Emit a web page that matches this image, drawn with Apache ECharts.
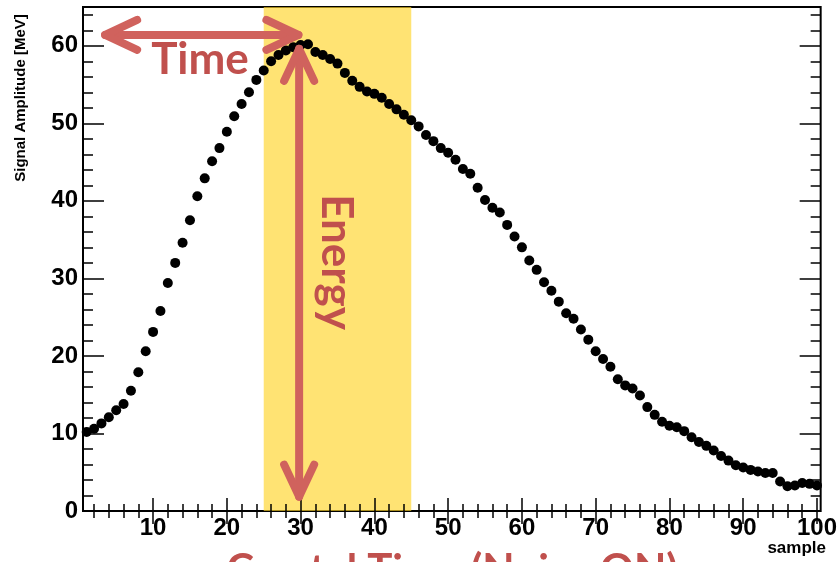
<!DOCTYPE html>
<html>
<head>
<meta charset="utf-8">
<script src="https://cdn.jsdelivr.net/npm/echarts@6/dist/echarts.min.js"></script>
<style>
html,body{margin:0;padding:0;background:#fff;}
#c{width:840px;height:562px;}
</style>
</head>
<body>
<div id="c"></div>
<script>
// ---------- data ----------
const samples = [1,2,3,4,5,6,7,8,9,10,11,12,13,14,15,16,17,18,19,20,
  21,22,23,24,25,26,27,28,29,30,31,32,33,34,35,36,37,38,39,40,
  41,42,43,44,45,46,47,48,49,50,51,52,53,54,55,56,57,58,59,60,
  61,62,63,64,65,66,67,68,69,70,71,72,73,74,75,76,77,78,79,80,
  81,82,83,84,85,86,87,88,89,90,91,92,93,94,95,96,97,98,99,100];
const amplitude = [10.2,10.6,11.3,12.1,13.0,13.8,15.5,17.9,20.6,23.1,
  25.8,29.4,32.0,34.6,37.5,40.6,42.9,45.1,46.8,48.9,
  50.9,52.5,54.0,55.6,56.8,58.0,58.8,59.4,59.8,60.1,
  60.2,59.2,58.8,58.3,57.7,56.5,55.5,54.7,54.1,53.8,
  53.3,52.5,51.8,51.1,50.4,49.6,48.5,47.7,46.8,46.2,
  45.3,44.1,43.5,41.7,40.1,39.1,38.5,36.9,35.4,34.0,
  32.3,31.1,29.5,28.4,27.0,25.5,24.8,23.4,22.1,20.6,
  19.6,18.6,17.0,16.2,15.8,14.9,13.4,12.4,11.5,11.0,
  10.8,10.3,9.5,8.9,8.4,7.8,7.1,6.5,5.9,5.6,
  5.3,5.1,4.9,4.9,3.8,3.2,3.3,3.6,3.5,3.3];
const xMajorTicks = [10,20,30,40,50,60,70,80,90,100];
const xMinorTicks = [2,4,6,8,12,14,16,18,22,24,26,28,32,34,36,38,42,44,46,48,
  52,54,56,58,62,64,66,68,72,74,76,78,82,84,86,88,92,94,96,98];
const yMajorTicks = [0,10,20,30,40,50,60];
const yMinorTicks = [2,4,6,8,12,14,16,18,22,24,26,28,32,34,36,38,42,44,46,48,
  52,54,56,58,62,64];
const xRange = [0.5, 100.5];
const yRange = [0, 65];
const band = [25, 45];                       // highlighted sample window
const timeArrow = {x1: 3.5, x2: 29.7, y: 61.4};     // horizontal arrow (data coords)
const energyArrow = {x: 29.8, y1: 59.6, y2: 1.85};  // vertical arrow (data coords)
const xTitle = 'sample';
const yTitle = 'Signal Amplitude [MeV]';
const timeLabel = 'Time';
const energyLabel = 'Energy';
const bottomTitle = 'Crystal Time (Noise ON)';

// ---------- chart ----------
const chart = echarts.init(document.getElementById('c'), null, {renderer: 'canvas'});
const labelFont = {fontFamily: "'Liberation Sans Narrow','Liberation Sans',Arial,sans-serif", fontWeight: 'bold', fontSize: 24, color: '#000'};
const tickStyle = {color: '#000', width: 1.5};

function xAx(pos, ticks, len, withLabels) {
  return {
    type: 'value', min: xRange[0], max: xRange[1], position: pos,
    axisLine: {show: false}, splitLine: {show: false},
    axisTick: {show: true, inside: true, length: len, customValues: ticks, lineStyle: tickStyle},
    axisLabel: withLabels ? Object.assign({show: true, customValues: ticks, margin: 5}, labelFont) : {show: false},
    z: 1
  };
}
function yAx(pos, ticks, len, withLabels) {
  return {
    type: 'value', min: yRange[0], max: yRange[1], position: pos,
    axisLine: {show: false}, splitLine: {show: false},
    axisTick: {show: true, inside: true, length: len, customValues: ticks, lineStyle: tickStyle},
    axisLabel: withLabels ? Object.assign({show: true, customValues: ticks, margin: 5}, labelFont) : {show: false},
    z: 1
  };
}

const points = samples.map((s, i) => [s, amplitude[i]]);

chart.setOption({
  animation: false,
  backgroundColor: '#fff',
  grid: {left: 83, right: 15, top: 7, bottom: 51, show: true, borderColor: '#000', borderWidth: 2, backgroundColor: '#fff'},
  xAxis: [
    xAx('bottom', xMajorTicks, 13, true),
    xAx('bottom', xMinorTicks, 7, false),
    xAx('top', xMajorTicks, 13, false),
    xAx('top', xMinorTicks, 7, false)
  ],
  yAxis: [
    yAx('left', yMajorTicks, 21, true),
    yAx('left', yMinorTicks, 10, false),
    yAx('right', yMajorTicks, 21, false),
    yAx('right', yMinorTicks, 10, false)
  ],
  series: [
    {
      type: 'scatter', xAxisIndex: 0, yAxisIndex: 0, data: points,
      symbol: 'circle', symbolSize: 10, itemStyle: {color: '#000', opacity: 1}, z: 5, silent: true
    },
    {
      type: 'line', xAxisIndex: 0, yAxisIndex: 0, data: [], z: 3, silent: true,
      markArea: {silent: true, itemStyle: {color: 'rgba(255,212,42,0.66)'},
        data: [[{xAxis: band[0]}, {xAxis: band[1]}]]}
    }
  ]
});

// ---------- annotations ----------
const red = '#D0625D';
const textRed = '#C0504D';
const P = (x, y) => chart.convertToPixel({seriesIndex: 0}, [x, y]);
const hL = P(timeArrow.x1, timeArrow.y), hR = P(timeArrow.x2, timeArrow.y);
const vT = P(energyArrow.x, energyArrow.y1), vB = P(energyArrow.x, energyArrow.y2);
const lineSt = {stroke: red, lineWidth: 8, lineCap: 'round', lineJoin: 'round', fill: null};
function pl(pts) { return {type: 'polyline', shape: {points: pts}, style: lineSt, z: 20, silent: true}; }
const ah = 32, aw = 15;
chart.setOption({
  graphic: [
    pl([hL, hR]),
    pl([[hL[0] + ah, hL[1] - aw], hL, [hL[0] + ah, hL[1] + aw]]),
    pl([[hR[0] - ah, hR[1] - aw], hR, [hR[0] - ah, hR[1] + aw]]),
    pl([vT, vB]),
    pl([[vT[0] - aw, vT[1] + ah], vT, [vT[0] + aw, vT[1] + ah]]),
    pl([[vB[0] - aw, vB[1] - ah], vB, [vB[0] + aw, vB[1] - ah]]),
    {type: 'text', x: 200, y: 60, z: 20, silent: true,
      style: {text: timeLabel, fill: textRed, font: "bold 44px Lato, 'Open Sans', sans-serif", align: 'center', verticalAlign: 'middle'}},
    {type: 'text', x: 336, y: 262, rotation: -Math.PI / 2, z: 20, silent: true,
      style: {text: energyLabel, fill: textRed, font: "bold 44px Lato, 'Open Sans', sans-serif", align: 'center', verticalAlign: 'middle'}},
    {type: 'text', x: 452, y: 549, z: 20, silent: true,
      style: {text: bottomTitle, fill: textRed, font: "bold 42px Lato, 'Open Sans', sans-serif", align: 'center', verticalAlign: 'top'}},
    {type: 'text', x: 826, y: 540, z: 20, silent: true,
      style: {text: xTitle, fill: '#000', font: "bold 17px 'Liberation Sans', Arial, sans-serif", align: 'right', verticalAlign: 'top'}},
    {type: 'text', x: 21, y: 98, rotation: Math.PI / 2, z: 20, silent: true,
      style: {text: yTitle, fill: '#000', font: "bold 15px 'Liberation Sans', Arial, sans-serif", align: 'center', verticalAlign: 'middle'}}
  ]
});
</script>
</body>
</html>
